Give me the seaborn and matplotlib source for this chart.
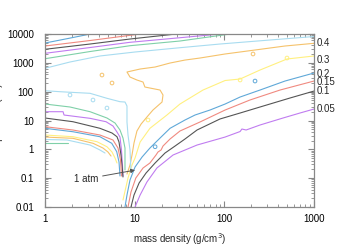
import seaborn as sns
import matplotlib.pyplot as plt
from matplotlib.ticker import LogLocator, NullFormatter, FixedLocator, FixedFormatter
import matplotlib.transforms as mtransforms

# colours of the contour cycle
purple = '#c07cf0'
gray = '#555555'
red = '#f08a80'
blue = '#5fa8d8'
yellow = '#fff080'
orange = '#f5c26b'
lightblue = '#a8dcf0'
green = '#7fd0a8'

# high temperature group (lines rising to the right)
rho_hi_blue = [1, 1.8, 3.2]
T_hi_blue = [4870, 6980, 10000]
rho_hi_red = [1, 3.18, 11.5]
T_hi_red = [3840, 5950, 10000]
rho_hi_gray = [1, 3.18, 8.87, 28.9]
T_hi_gray = [2950, 4500, 6710, 10000]
rho_hi_purple = [1, 3.18, 8.87, 32, 89.5]
T_hi_purple = [2140, 3400, 5160, 7440, 10000]
rho_hi_green = [1, 3.18, 8.87, 32, 116]
T_hi_green = [1390, 2470, 3930, 5720, 10000]
rho_hi_lblue = [1, 1.9, 4.1, 10.1, 32, 89.5, 323, 1000]
T_hi_lblue = [646, 1070, 1730, 2380, 3350, 4500, 6200, 8190]

# 0.4 contour: from the 1 atm corner up, then out to the right edge
rho_orange = [8.21, 8.87, 9.34, 9.83, 10.6, 11.8, 13.7, 16.0, 20.2, 20.7, 19.2,
              13.0, 12.4, 10.6, 8.87, 8.21,
              11.5, 16.9, 24.8, 36.4, 53.5, 102, 220, 475, 1000]
T_orange = [0.139, 0.286, 0.636, 1.66, 4.32, 7.55, 13.2, 23.1, 43.8, 76.6, 114,
            145, 216, 254, 322, 481,
            611, 717, 986, 1250, 1470, 2030, 2790, 3840, 4760]

# lower right family, 0.3 down to 0.05
rho_yellow = [7.41, 8.43, 9.34, 10.1, 11.5, 14.8, 22.9, 32, 57.8, 102, 150, 250, 500, 1000]
T_yellow = [0.0175, 0.101, 0.286, 0.5, 1.79, 5.36, 15.5, 37.3, 114, 244, 275, 564, 1360, 1730]
rho_blue = [7.8, 8.21, 8.87, 10.1, 12.1, 14.8, 19.2, 24.8, 36.4, 47.1, 69.2, 102, 150, 250, 475, 1000]
T_blue = [0.01, 0.026, 0.0863, 0.244, 0.542, 1.11, 2.47, 5.36, 10.4, 15.5, 23.1, 37.3, 65.3, 114, 234, 444]
rho_red = [8.43, 9.1, 10.3, 12.4, 14.8, 17.3, 18.2, 19.7, 20.7, 24.8, 32, 53.5, 102, 193, 418, 1000]
T_red = [0.01, 0.0331, 0.101, 0.225, 0.336, 0.636, 0.807, 0.948, 1.30, 2.28, 4.32, 8.87, 23.1, 51.4, 114, 234]
rho_gray = [9.1, 9.83, 11.2, 13.4, 16.9, 21.8, 28.2, 36.4, 49.6, 89.5, 150, 250, 540, 1000]
T_gray = [0.01, 0.026, 0.0679, 0.151, 0.336, 0.745, 1.30, 2.28, 4.68, 11.3, 18.2, 29.4, 60.3, 105]
rho_purple = [10.1, 11.5, 13.7, 17.7, 26.8, 49.6, 102, 150, 157, 175, 250, 451, 698, 1000]
T_purple = [0.01, 0.026, 0.0735, 0.225, 0.636, 1.41, 2.67, 4.15, 5.07, 4.68, 6.98, 12.2, 18.2, 25.0]

# lower left group, converging on the 1 atm point
rho_lo_lblue = [1, 1.47, 2.16, 3.18, 4.91, 6.86, 7.8, 8.21, 8.21, 8.21, 8.43, 8.87, 9.1]
T_lo_lblue = [108, 99.8, 93.5, 87.8, 58.9, 44.9, 43.8, 31.8, 15.5, 8.87, 3.14, 0.948, 0.163]
rho_lo_green = [1, 1.9, 3.18, 4.91, 6.04, 6.86, 7.41, 7.8, 7.8, 7.8]
T_lo_green = [37.3, 29.4, 20.2, 12.2, 8.18, 4.68, 2.47, 1.11, 0.427, 0.192]
rho_lo_purple = [1, 1.59, 1.63, 3.18, 4.79, 5.73, 6.35, 6.86, 7.13, 7.31, 7.41]
T_lo_purple = [20.2, 20.2, 15.5, 11.9, 9.08, 6.44, 3.99, 2.67, 0.948, 0.286, 0.119]
rho_lo_gray = [1, 2.05, 4.1, 5.59, 6.35, 6.69, 7.04, 7.22, 7.41]
T_lo_gray = [12.2, 9.08, 5.36, 3.68, 2.74, 1.79, 0.636, 0.286, 0.110]
rho_lo_red = [1, 2.05, 4.1, 5.73, 6.52, 6.95, 7.13]
T_lo_red = [6.10, 4.68, 3.14, 2.11, 1.11, 0.427, 0.119]
rho_lo_blue = [1, 2.05, 4.1, 5.55, 6.31, 6.69, 6.86]
T_lo_blue = [5.36, 4.08, 2.74, 1.62, 0.828, 0.363, 0.119]
rho_lo_yellow = [1, 2.05, 3.8, 4.91, 5.59, 6.04, 6.35]
T_lo_yellow = [3.14, 2.74, 1.84, 1.23, 0.807, 0.5, 0.336]
rho_lo_orange = [1, 2.05, 3.43, 4.43, 5.04, 5.45]
T_lo_orange = [2.67, 2.41, 1.62, 1.11, 0.807, 0.586]
rho_lo_lblue2 = [1, 1.76, 3.18, 4.1, 4.67]
T_lo_lblue2 = [2.19, 2.11, 1.41, 0.948, 0.745]
rho_lo_green2 = [1, 1.80]
T_lo_green2 = [1.62, 1.62]

# small closed islands
rho_isl_lblue = [1.90, 3.43, 4.91]
T_isl_lblue = [76.6, 51.4, 27.1]
rho_isl_orange = [4.32, 5.59, 209]
T_isl_orange = [378, 200, 2030]
rho_isl_yellow = [150, 500, 14.1]
T_isl_yellow = [254, 1470, 10.4]
rho_isl_blue = [220, 16.9]
T_isl_blue = [234, 1.23]

level_labels = ['0.4', '0.3', '0.2', '0.15', '0.1', '0.05']
level_label_T = [4870, 1300, 410, 216, 105, 25.0]

sns.set_theme(style='ticks')
plt.rcParams['font.family'] = ['Liberation Sans', 'DejaVu Sans']

fig = plt.figure(figsize=(3.6, 2.52), dpi=100)
ax = fig.add_axes([0.125, 0.1786, 0.7472, 0.6864])

curves = [
    (rho_hi_blue, T_hi_blue, blue), (rho_hi_red, T_hi_red, red),
    (rho_hi_gray, T_hi_gray, gray), (rho_hi_purple, T_hi_purple, purple),
    (rho_hi_green, T_hi_green, green), (rho_hi_lblue, T_hi_lblue, lightblue),
    (rho_orange, T_orange, orange), (rho_yellow, T_yellow, yellow),
    (rho_blue, T_blue, blue), (rho_red, T_red, red),
    (rho_gray, T_gray, gray), (rho_purple, T_purple, purple),
    (rho_lo_lblue, T_lo_lblue, lightblue), (rho_lo_green, T_lo_green, green),
    (rho_lo_purple, T_lo_purple, purple), (rho_lo_gray, T_lo_gray, gray),
    (rho_lo_red, T_lo_red, red), (rho_lo_blue, T_lo_blue, blue),
    (rho_lo_yellow, T_lo_yellow, yellow), (rho_lo_orange, T_lo_orange, orange),
    (rho_lo_lblue2, T_lo_lblue2, lightblue), (rho_lo_green2, T_lo_green2, green),
]
for xs, ys, c in curves:
    sns.lineplot(x=xs, y=ys, sort=False, estimator=None, color=c, lw=0.8, ax=ax)

for xs, ys, c in [(rho_isl_lblue, T_isl_lblue, lightblue), (rho_isl_orange, T_isl_orange, orange),
                  (rho_isl_yellow, T_isl_yellow, yellow), (rho_isl_blue, T_isl_blue, blue)]:
    sns.scatterplot(x=xs, y=ys, marker='o', s=7, facecolor='none', edgecolor=c,
                    linewidth=0.7, ax=ax)

ax.set_xscale('log')
ax.set_yscale('log')
ax.set_xlim(1, 1000)
ax.set_ylim(0.01, 10000)

ax.xaxis.set_major_locator(FixedLocator([1, 10, 100, 1000]))
ax.xaxis.set_major_formatter(FixedFormatter(['1', '10', '100', '1000']))
ax.yaxis.set_major_locator(FixedLocator([0.01, 0.1, 1, 10, 100, 1000, 10000]))
ax.yaxis.set_major_formatter(FixedFormatter(['0.01', '0.1', '1', '10', '100', '1000', '10000']))
for axis in (ax.xaxis, ax.yaxis):
    axis.set_minor_locator(LogLocator(base=10, subs=range(2, 10), numticks=20))
    axis.set_minor_formatter(NullFormatter())

ax.tick_params(which='both', direction='in', top=True, right=True, color='#888888',
               labelsize=7, labelcolor='black')
ax.tick_params(which='major', length=4, width=0.8)
ax.tick_params(which='minor', length=2, width=0.6)
ax.tick_params(axis='y', pad=8)
ax.tick_params(axis='x', pad=5)
for s in ax.spines.values():
    s.set_color('#888888')
    s.set_linewidth(0.9)

ax.set_xlabel('mass density (g/cm$^3$)', fontsize=7, labelpad=5)
ax.set_ylabel('temperature (eV)', fontsize=7)
ax.yaxis.set_label_coords(-0.156, 0.5)

trans = mtransforms.blended_transform_factory(ax.transAxes, ax.transData)
for lab, t in zip(level_labels, level_label_T):
    ax.text(1.008, t, lab, transform=trans, fontsize=7, ha='left', va='center')

ax.annotate('1 atm', xy=(10.1, 0.19), xytext=(3.9, 0.0935), ha='right', va='center',
            fontsize=7, arrowprops=dict(arrowstyle='-|>', color='#555555', lw=0.7,
                                        mutation_scale=6, shrinkA=1, shrinkB=0))

fig.savefig('out.png', dpi=100)
